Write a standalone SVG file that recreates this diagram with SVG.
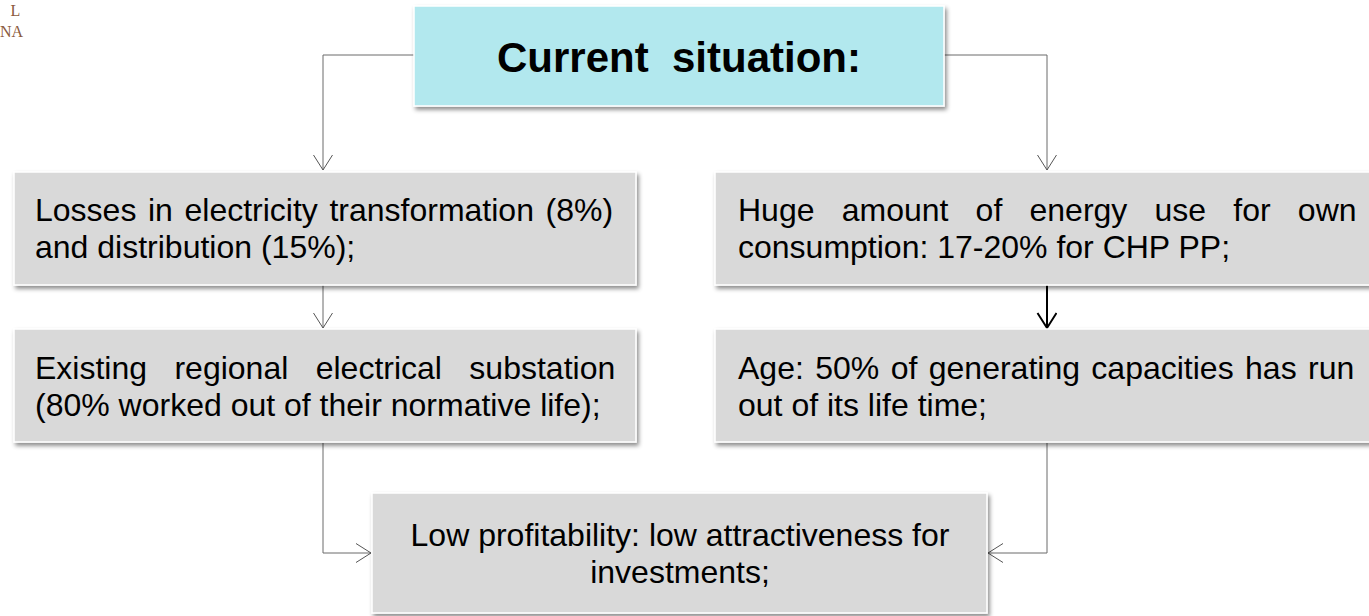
<svg xmlns="http://www.w3.org/2000/svg" width="1369" height="616" viewBox="0 0 1369 616">
<defs>
<style>
.box{fill:#d9d9d9;stroke:#ffffff;stroke-width:1.5;filter:url(#sh)}
.title{fill:#b2e8ee;stroke:#ffffff;stroke-width:1.5;filter:url(#sh)}
.t{font-family:"Liberation Sans",Arial,sans-serif;font-size:32px;fill:#000}
.tt{font-family:"Liberation Sans",Arial,sans-serif;font-size:42px;font-weight:bold;fill:#000}
.c{fill:none;stroke:#6a6a6a;stroke-width:1}
.cb{fill:none;stroke:#000;stroke-width:2}
.logo{font-family:"Liberation Serif","Times New Roman",serif;font-size:16px;fill:#8b5a3c}
</style>
<filter id="sh" x="-5%" y="-10%" width="112%" height="130%">
<feDropShadow dx="2" dy="3" stdDeviation="2.2" flood-color="#000" flood-opacity="0.45"/>
</filter>
<marker id="ar" markerWidth="20" markerHeight="22" refX="16" refY="10" orient="auto" markerUnits="userSpaceOnUse">
<path d="M1,0.5 L16,10 L1,19.5" fill="none" stroke="#555" stroke-width="1"/>
</marker>
<marker id="arb" markerWidth="20" markerHeight="22" refX="16" refY="10" orient="auto" markerUnits="userSpaceOnUse">
<path d="M1,0.5 L16,10 L1,19.5" fill="none" stroke="#000" stroke-width="2"/>
</marker>
</defs>
<rect width="1369" height="616" fill="#ffffff"/>
<g id="logo">
<text class="logo" x="15.5" y="16" text-anchor="middle">L</text>
<text class="logo" x="11.5" y="37" text-anchor="middle">NA</text>
</g>
<g id="connectors">
<path class="c" d="M414,55 H323 V170" marker-end="url(#ar)"/>
<path class="c" d="M944,55 H1047 V170" marker-end="url(#ar)"/>
<path class="c" d="M323,285 V328" marker-end="url(#ar)"/>
<path class="cb" d="M1047,285 V328" marker-end="url(#arb)"/>
<path class="c" d="M323,443 V553 H371" marker-end="url(#ar)"/>
<path class="c" d="M1047,443 V553 H988" marker-end="url(#ar)"/>
</g>
<g id="n-current">
<rect class="title" x="414" y="6" width="530" height="100"/>
<text class="tt" x="679" y="72" text-anchor="middle" xml:space="preserve">Current  situation:</text>
</g>
<g id="n-losses">
<rect class="box" x="14" y="172" width="622" height="113"/>
<text class="t" x="35" y="221" word-spacing="2.7">Losses in electricity transformation (8%)</text>
<text class="t" x="35" y="258">and distribution (15%);</text>
</g>
<g id="n-existing">
<rect class="box" x="14" y="329" width="622" height="113"/>
<text class="t" x="35" y="379" word-spacing="18.5">Existing regional electrical substation</text>
<text class="t" x="35" y="416">(80% worked out of their normative life);</text>
</g>
<g id="n-huge">
<rect class="box" x="715" y="172" width="700" height="113"/>
<text class="t" x="738" y="221" word-spacing="18.3">Huge amount of energy use for own</text>
<text class="t" x="738" y="258">consumption: 17-20% for CHP PP;</text>
</g>
<g id="n-age">
<rect class="box" x="715" y="329" width="700" height="113"/>
<text class="t" x="738" y="379" word-spacing="2.5">Age: 50% of generating capacities has run</text>
<text class="t" x="738" y="416">out of its life time;</text>
</g>
<g id="n-low">
<rect class="box" x="372" y="493" width="615" height="120"/>
<text class="t" x="680" y="546" text-anchor="middle">Low profitability: low attractiveness for</text>
<text class="t" x="680" y="583" text-anchor="middle">investments;</text>
</g>
</svg>
